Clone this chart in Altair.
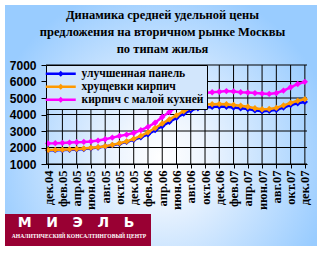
import altair as alt
import pandas as pd

months = ["дек.04", "янв.05", "фев.05", "мар.05", "апр.05", "май.05", "июн.05",
          "июл.05", "авг.05", "сен.05", "окт.05", "ноя.05", "дек.05", "янв.06",
          "фев.06", "мар.06", "апр.06", "май.06", "июн.06", "июл.06", "авг.06",
          "сен.06", "окт.06", "ноя.06", "дек.06", "янв.07", "фев.07", "мар.07",
          "апр.07", "май.07", "июн.07", "июл.07", "авг.07", "сен.07", "окт.07",
          "ноя.07", "дек.07"]
tick_months = months[::2]
y_ticks = [1000, 2000, 3000, 4000, 5000, 6000, 7000]

series_names = ["улучшенная панель", "хрущевки кирпич", "кирпич с малой кухней"]
series_colors = ["#0000ff", "#ff9900", "#ff00ff"]

panel = [1830, 1840, 1850, 1860, 1880, 1910, 1950, 2000, 2060, 2140, 2230, 2340,
         2470, 2620, 2800, 3050, 3300, 3550, 3800, 4050, 4250, 4380, 4420, 4460,
         4480, 4470, 4420, 4380, 4330, 4250, 4200, 4220, 4280, 4420, 4570, 4680, 4760]
khrush = [1850, 1860, 1870, 1890, 1910, 1940, 1980, 2020, 2080, 2160, 2260, 2370,
          2520, 2700, 2920, 3180, 3450, 3700, 3950, 4200, 4400, 4520, 4600, 4620,
          4630, 4620, 4580, 4530, 4470, 4380, 4320, 4340, 4400, 4550, 4700, 4830, 4930]
small_kitchen = [2250, 2260, 2280, 2300, 2320, 2340, 2370, 2420, 2500, 2600, 2700, 2780,
                 2880, 3050, 3250, 3500, 3850, 4150, 4450, 4700, 4950, 5150, 5300, 5350,
                 5380, 5420, 5400, 5350, 5330, 5300, 5270, 5250, 5300, 5450, 5650, 5850, 5980]

title_lines = ["Динамика средней удельной цены",
               "предложения на вторичном рынке Москвы",
               "по типам жилья"]
logo_name = "\u00a0\u00a0\u00a0".join("МИЭЛЬ")
logo_sub = "АНАЛИТИЧЕСКИЙ КОНСАЛТИНГОВЫЙ ЦЕНТР"

rows = []
for name, vals in zip(series_names, [panel, khrush, small_kitchen]):
    for m, v in zip(months, vals):
        rows.append({"month": m, "series": name, "value": v})
df = pd.DataFrame(rows)

W, H = 261, 99

xscale = alt.Scale(domain=months, type="point", padding=0.3)
yscale = alt.Scale(domain=[1000, 7000], nice=False, zero=False)
cscale = alt.Scale(domain=series_names, range=series_colors)

x_axis = alt.Axis(values=tick_months, title=None, labelAngle=270,
                  labelFont="Liberation Serif", labelFontWeight="bold",
                  labelFontSize=12.5, labelColor="black", tickColor="black",
                  tickSize=4, labelPadding=2, domainColor="black",
                  grid=False, zindex=2)
y_axis = alt.Axis(values=y_ticks, title=None, format="d", labelFont="Liberation Sans",
                  labelFontWeight="bold", labelFontSize=12,
                  labelColor="black", tickColor="black", tickSize=5,
                  labelPadding=5, domainColor="black", grid=False, zindex=2)

one = pd.DataFrame({"k": [0]})

bg = alt.Chart(one).mark_rect(
    color={"gradient": "radial", "x1": 0.5, "y1": 0.6, "r1": 0.0,
           "x2": 0.5, "y2": 0.6, "r2": 0.56,
           "stops": [{"offset": 0, "color": "#ffffff"},
                     {"offset": 0.25, "color": "#eef5fe"},
                     {"offset": 1, "color": "#99ccff"}]}
).encode(x=alt.value(-41), x2=alt.value(271), y=alt.value(-60), y2=alt.value(181))

vgrid = alt.Chart(pd.DataFrame({"month": tick_months})).mark_rule(
    color="black", strokeWidth=1).encode(
    x=alt.X("month:N", scale=xscale, sort=months, axis=x_axis))
hgrid = alt.Chart(pd.DataFrame({"value": y_ticks})).mark_rule(
    color="black", strokeWidth=1).encode(
    y=alt.Y("value:Q", scale=yscale, axis=y_axis))

legend = alt.Legend(
    title=None, orient="none", legendX=0, legendY=0,
    fillColor="#d2e6fc", strokeColor="black", padding=3,
    labelFont="Liberation Serif", labelFontWeight="bold",
    labelFontSize=11.5, labelColor="black", labelLimit=400,
    symbolType="M-3,-0.25H3V0.25H-3Z M0,-0.6L0.6,0L0,0.6L-0.6,0Z",
    symbolSize=100, symbolOffset=6, labelOffset=15,
    symbolStrokeWidth=0, rowPadding=0, zindex=3)

layers = [bg, vgrid, hgrid]
for name, col in zip(series_names, series_colors):
    base = alt.Chart(df).transform_filter(alt.datum.series == name)
    line = base.mark_line(strokeWidth=2.5, color=col).encode(
        x=alt.X("month:N", scale=xscale, sort=months, axis=x_axis),
        y=alt.Y("value:Q", scale=yscale, axis=y_axis),
    )
    pts = base.mark_point(shape="diamond", filled=True, size=40, opacity=1).encode(
        x=alt.X("month:N", scale=xscale, sort=months, axis=x_axis),
        y=alt.Y("value:Q", scale=yscale, axis=y_axis),
        fill=alt.Fill("series:N", scale=cscale, sort=series_names, legend=legend),
    )
    layers += [line, pts]

logo_box = alt.Chart(one).mark_rect(color="#990033").encode(
    x=alt.value(-41), x2=alt.value(105), y=alt.value(149), y2=alt.value(181))
logo_t1 = alt.Chart(pd.DataFrame({"t": [logo_name]})).mark_text(
    font="DejaVu Sans", fontSize=14, fontWeight="bold", color="white",
    baseline="middle", align="center").encode(
    x=alt.value(30), y=alt.value(158), text="t:N")
logo_t2 = alt.Chart(pd.DataFrame({"t": [logo_sub]})).mark_text(
    font="Liberation Serif", fontSize=5.6, fontWeight="bold", color="white",
    baseline="middle", align="center").encode(
    x=alt.value(33), y=alt.value(171), text="t:N")
layers += [logo_box, logo_t1, logo_t2]

chart = alt.layer(*layers).properties(
    width=W, height=H,
    autosize=alt.AutoSizeParams(type="none"),
    padding={"left": 46, "top": 65, "right": 18, "bottom": 89},
    background="white",
    title=alt.TitleParams(text=title_lines, font="Liberation Serif", fontSize=12.5,
                          fontWeight="bold", color="black", lineHeight=17,
                          anchor="middle", dx=-14, offset=-50, zindex=3),
).configure_view(stroke="black", strokeWidth=1).configure_legend(strokeWidth=1)

chart.save("out.html", embed_options={"renderer": "svg", "actions": False})
